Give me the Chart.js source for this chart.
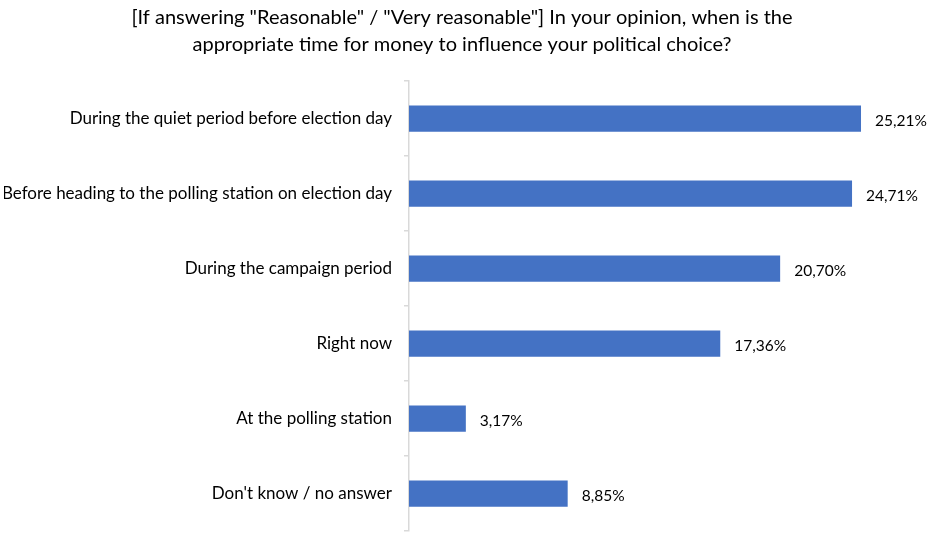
<!DOCTYPE html>
<html lang="en">
<head>
    <meta charset="UTF-8">
    <title>Money and political choice</title>
    <script src="https://cdn.jsdelivr.net/npm/chart.js"></script>
    <style>
        * {
            margin: 0;
            padding: 0;
            box-sizing: border-box;
        }

        body {
            background: #ffffff;
        }

        .chart-container {
            position: relative;
            width: 933px;
            height: 537px;
        }
    </style>
</head>
<body>
    <div class="chart-container">
        <canvas id="timingChart"></canvas>
    </div>

    <script>
        const titleLines = [
            '[If answering "Reasonable" / "Very reasonable"] In your opinion, when is the',
            'appropriate time for money to influence your political choice?'
        ];
        const categories = [
            'During the quiet period before election day',
            'Before heading to the polling station on election day',
            'During the campaign period',
            'Right now',
            'At the polling station',
            "Don't know / no answer"
        ];
        const shares = [25.21, 24.71, 20.70, 17.36, 3.17, 8.85];

        const fmtPct = v => v.toFixed(2).replace('.', ',') + '%';

        // simple value labels to the right of each bar
        const barLabels = {
            id: 'barLabels',
            afterDatasetsDraw(chart) {
                const ctx = chart.ctx;
                const meta = chart.getDatasetMeta(0);
                ctx.save();
                ctx.font = '15.5px Lato';
                ctx.fillStyle = '#000000';
                ctx.textAlign = 'left';
                ctx.textBaseline = 'middle';
                meta.data.forEach((bar, i) => {
                    ctx.fillText(fmtPct(shares[i]), bar.x + 14, bar.y + 2);
                });
                ctx.restore();
            }
        };

        const ctx = document.getElementById('timingChart').getContext('2d');
        new Chart(ctx, {
            type: 'bar',
            data: {
                labels: categories,
                datasets: [{
                    data: shares,
                    backgroundColor: '#4472C4',
                    borderWidth: 0,
                    categoryPercentage: 1,
                    barPercentage: 0.35
                }]
            },
            options: {
                indexAxis: 'y',
                responsive: true,
                maintainAspectRatio: false,
                animation: false,
                layout: {
                    padding: { top: 4, right: 13, bottom: 6, left: 4 }
                },
                plugins: {
                    legend: { display: false },
                    tooltip: { enabled: false },
                    title: {
                        display: true,
                        text: titleLines,
                        color: '#000000',
                        font: { family: 'Lato', size: 20, weight: 'normal', lineHeight: 1.35 },
                        padding: { top: 0, bottom: 23 }
                    }
                },
                scales: {
                    x: {
                        display: false,
                        min: 0,
                        max: 28.5
                    },
                    y: {
                        offset: true,
                        border: { display: true, color: '#d9d9d9', width: 1.5 },
                        grid: {
                            display: true,
                            offset: true,
                            drawOnChartArea: false,
                            drawTicks: true,
                            tickLength: 5,
                            color: '#d9d9d9',
                            lineWidth: 1.5
                        },
                        ticks: {
                            color: '#000000',
                            padding: 12,
                            font: { family: 'Lato', size: 17 }
                        },
                        afterFit(scale) {
                            scale.width = 405;
                            scale.paddingTop = 0;
                            scale.paddingBottom = 0;
                        }
                    }
                }
            },
            plugins: [barLabels]
        });
    </script>
</body>
</html>
